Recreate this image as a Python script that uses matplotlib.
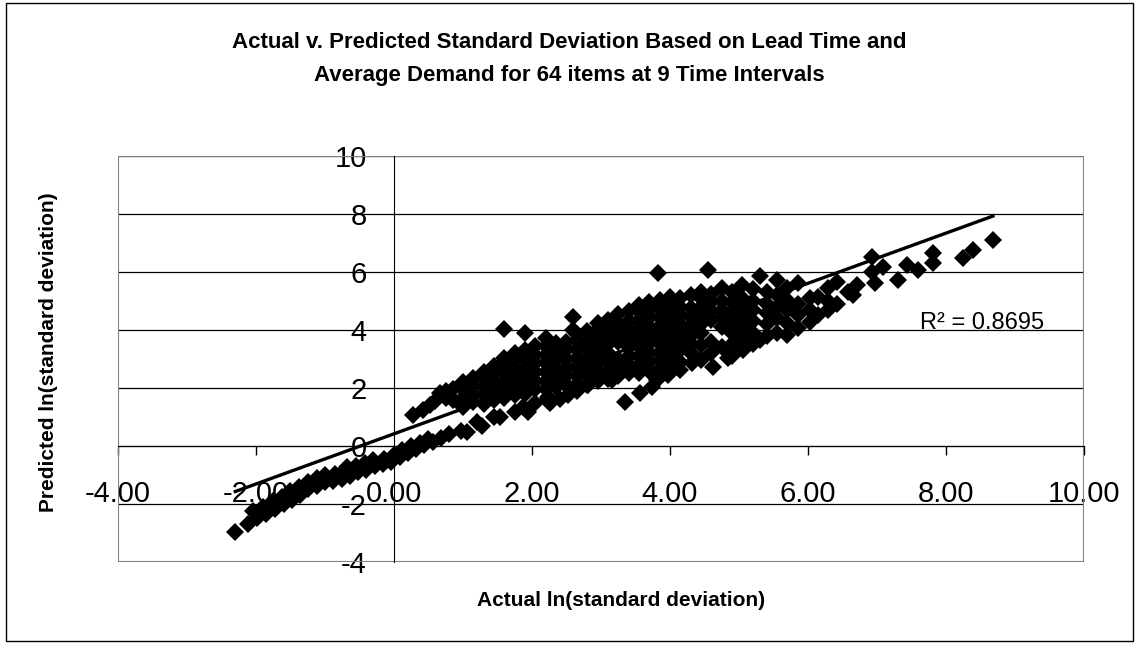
import matplotlib.pyplot as plt
from matplotlib.patches import Rectangle

# data (actual vs predicted ln(std dev))
# lower tail, two rows of diamonds
tail_a_x = [-2.30, -2.12, -1.98, -1.85, -1.72, -1.60, -1.48, -1.36, -1.24, -1.12, -1.00, -0.88, -0.76,
            -0.64, -0.52, -0.40, -0.28, -0.16, -0.04, 0.09, 0.20, 0.32, 0.44, 0.56, 0.68, 0.80]
tail_a_y = [-2.95, -2.68, -2.50, -2.35, -2.18, -2.00, -1.85, -1.68, -1.50, -1.38, -1.25, -1.20, -1.15,
            -1.05, -0.90, -0.82, -0.70, -0.62, -0.55, -0.38, -0.25, -0.12, 0.05, 0.14, 0.28, 0.40]
tail_b_x = [-2.05, -1.90, -1.75, -1.62, -1.50, -1.38, -1.25, -1.12, -1.00, -0.85, -0.72, -0.68, -0.55,
            -0.42, -0.30, -0.15, 0.00, 0.12, 0.25, 0.38, 0.50]
tail_b_y = [-2.25, -2.10, -1.90, -1.75, -1.55, -1.40, -1.25, -1.10, -1.00, -0.95, -0.85, -0.72, -0.70,
            -0.60, -0.50, -0.45, -0.30, -0.15, 0.00, 0.10, 0.25]

# lower streaks under the main cloud
streak_x = [0.97, 1.06, 1.20, 1.27, 1.45, 1.54, 1.75, 1.87, 1.94, 2.04, 2.22, 2.26, 2.23, 2.40, 2.52,
            2.65, 2.81, 3.16, 3.35, 3.57, 3.74, 3.81, 3.97, 4.14, 4.32, 4.62, 4.84, 5.06]
streak_y = [0.50, 0.48, 0.83, 0.70, 1.00, 1.00, 1.17, 1.34, 1.17, 1.48, 1.59, 1.48, 1.69, 1.62, 1.76,
            1.90, 2.10, 2.28, 1.52, 1.83, 2.03, 2.28, 2.45, 2.62, 2.86, 2.72, 3.03, 3.31]

# upper band left of the cloud
band_x = [0.28, 0.42, 0.52, 0.60, 0.67, 0.75, 0.75, 0.86, 0.86]
band_y = [1.07, 1.25, 1.41, 1.55, 1.83, 1.65, 1.90, 1.59, 1.95]

# main cloud, one column of y values per x
cloud_x = [1.00, 1.15, 1.30, 1.45, 1.60, 1.75, 1.90, 2.05, 2.20, 2.35, 2.50, 2.60, 2.65, 2.80, 2.95,
           3.10, 3.25, 3.40, 3.55, 3.70, 3.83, 3.85, 4.00, 4.15, 4.30, 4.45, 4.55, 4.60, 4.75, 4.90,
           5.05, 5.20, 5.30, 5.40, 5.55, 5.70, 5.86, 6.03, 6.15, 6.29, 6.42, 6.58, 6.65, 6.71]
cloud_y = [
    [1.35, 1.65, 1.95, 2.20],
    [1.50, 1.80, 2.10, 2.35],
    [1.45, 1.75, 2.05, 2.35, 2.55],
    [1.60, 1.90, 2.20, 2.50, 2.75],
    [1.65, 1.95, 2.25, 2.55, 2.85, 3.05, 4.03],
    [1.75, 2.05, 2.35, 2.65, 2.95, 3.20],
    [1.80, 2.10, 2.40, 2.70, 3.00, 3.30, 3.90],
    [1.95, 2.25, 2.55, 2.85, 3.15, 3.45],
    [1.95, 2.25, 2.55, 2.85, 3.15, 3.45, 3.72],
    [2.05, 2.35, 2.65, 2.95, 3.25, 3.55],
    [2.10, 2.40, 2.70, 3.00, 3.30, 3.60],
    [4.00, 4.45],
    [2.15, 2.45, 2.75, 3.05, 3.35, 3.65, 3.85],
    [2.10, 2.40, 2.70, 3.00, 3.30, 3.60, 3.95],
    [2.25, 2.55, 2.85, 3.15, 3.45, 3.75, 4.05, 4.25],
    [2.30, 2.60, 2.90, 3.20, 3.50, 3.80, 4.10, 4.35],
    [2.40, 2.70, 3.00, 3.60, 3.90, 4.20, 4.55],
    [2.50, 2.80, 3.10, 3.40, 3.70, 4.00, 4.30, 4.65],
    [2.50, 2.80, 3.10, 3.45, 3.75, 4.05, 4.35, 4.65, 4.85],
    [2.60, 2.90, 3.20, 3.50, 3.80, 4.10, 4.40, 4.70, 4.95],
    [5.97],
    [2.65, 2.95, 3.25, 3.55, 3.85, 4.15, 4.45, 4.75, 5.05],
    [2.79, 3.10, 3.40, 3.70, 4.00, 4.30, 4.60, 4.90, 5.14],
    [2.90, 3.30, 3.60, 3.90, 4.20, 4.50, 4.80, 5.10],
    [3.20, 3.50, 3.80, 4.15, 4.45, 4.75, 5.20],
    [2.97, 3.48, 3.90, 4.20, 4.50, 4.80, 5.10, 5.30],
    [6.07],
    [3.20, 3.60, 4.35, 4.65, 4.95, 5.25],
    [3.40, 4.10, 4.40, 4.70, 5.00, 5.45],
    [3.10, 3.50, 3.90, 4.30, 4.60, 4.95, 5.30],
    [3.70, 4.10, 4.50, 4.80, 5.10, 5.55],
    [3.50, 3.90, 4.30, 4.70, 5.00, 5.40],
    [3.66, 5.86],
    [3.80, 4.20, 4.60, 4.90, 5.30],
    [3.90, 4.40, 4.80, 5.20, 5.72],
    [3.83, 4.25, 4.70, 5.03, 5.45],
    [4.07, 4.50, 4.90, 5.62],
    [4.28, 4.70, 5.10],
    [4.50, 5.14],
    [4.69, 5.00, 5.45],
    [4.90, 5.66],
    [5.31],
    [5.21],
    [5.55],
]

# sparse upper-right tail
right_x = [6.93, 6.93, 6.97, 7.09, 7.30, 7.43, 7.60, 7.81, 7.81, 8.25, 8.39, 8.68]
right_y = [6.52, 6.00, 5.62, 6.17, 5.72, 6.24, 6.07, 6.66, 6.31, 6.48, 6.76, 7.10]

# Excel linear trendline
trend_slope = 0.865
trend_intercept = 0.42
r_squared = 0.8695

x_ticks = [-4, -2, 0, 2, 4, 6, 8, 10]
x_tick_labels = ["-4.00", "-2.00", "0.00", "2.00", "4.00", "6.00", "8.00", "10.00"]
y_ticks = [-4, -2, 0, 2, 4, 6, 8, 10]
y_tick_labels = ["-4", "-2", "0", "2", "4", "6", "8", "10"]

plt.rcParams['font.family'] = ['Liberation Sans', 'DejaVu Sans']

xs = tail_a_x + tail_b_x + streak_x + band_x + right_x
ys = tail_a_y + tail_b_y + streak_y + band_y + right_y
for cx, col in zip(cloud_x, cloud_y):
    xs += [cx] * len(col)
    ys += col

fig = plt.figure(figsize=(11.39, 6.47), dpi=100)
ax = fig.add_axes([0.1036, 0.1314, 0.8481, 0.6275])
ax.set_xlim(-4, 10)
ax.set_ylim(-4, 10)

ax.plot(xs, ys, 'D', color='black', ms=9.3, mew=0, zorder=3)

tx = [min(xs), max(xs)]
ax.plot(tx, [trend_slope * v + trend_intercept for v in tx], color='black', lw=2.4, zorder=4)

ax.text(7.62, 4.24, "R² = " + str(r_squared), fontsize=17, ha='left', va='center')

# axes cross at zero, plot area drawn as a grey box
for s in ['top', 'right']:
    ax.spines[s].set_visible(False)
ax.spines['left'].set_position(('data', 0))
ax.spines['bottom'].set_position(('data', 0))
ax.spines['left'].set_color('black')
ax.spines['bottom'].set_color('black')
ax.add_patch(Rectangle((0, 0), 1, 1, transform=ax.transAxes, fill=False,
                       ec='#808080', lw=1.5, zorder=1))

ax.set_xticks(x_ticks)
ax.set_xticklabels(x_tick_labels)
ax.set_yticks(y_ticks)
ax.set_yticklabels(y_tick_labels)
ax.tick_params(axis='x', direction='out', length=6.5, width=1, pad=18, labelsize=21)
ax.tick_params(axis='y', length=0, pad=19.5, labelsize=21)
ax.yaxis.grid(True, color='black', lw=0.9)
ax.set_axisbelow(True)

fig.text(0.5, 1 - 43 / 647, "Actual v. Predicted Standard Deviation Based on Lead Time and",
         ha='center', va='center', fontsize=16, fontweight='bold')
fig.text(0.5, 1 - 75 / 647, "Average Demand for 64 items at 9 Time Intervals",
         ha='center', va='center', fontsize=16, fontweight='bold')
fig.text(621 / 1139, 1 - 600 / 647, "Actual ln(standard deviation)",
         ha='center', va='center', fontsize=15, fontweight='bold')
fig.text(49 / 1139, 1 - 352 / 647, "Predicted ln(standard deviation)",
         ha='center', va='center', fontsize=15, fontweight='bold', rotation=90)

fig.patches.append(Rectangle((6 / 1139, 6 / 647), 1127 / 1139, 638 / 647,
                             transform=fig.transFigure, fill=False, ec='black', lw=1))

fig.savefig("out.png", dpi=100)
